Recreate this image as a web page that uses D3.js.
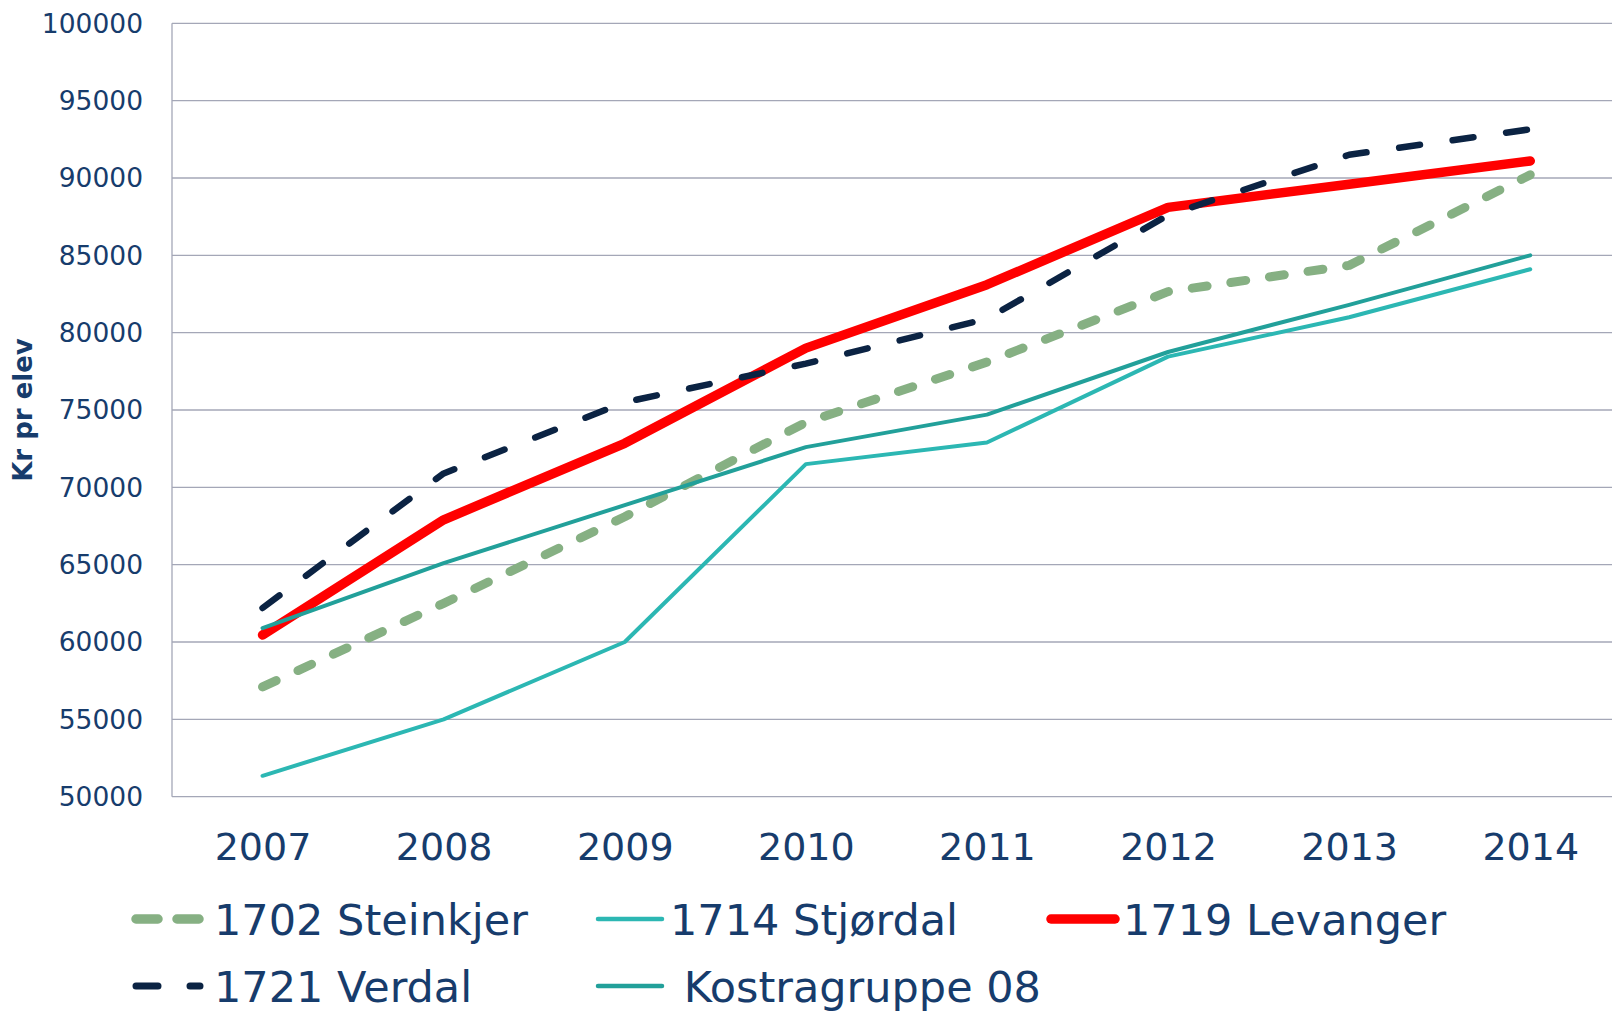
<!DOCTYPE html>
<html>
<head>
<meta charset="utf-8">
<script src="https://cdn.jsdelivr.net/npm/d3@7"></script>
<style>
  body { margin: 0; background: #fff; }
  text { font-family: "DejaVu Sans", Verdana, sans-serif; fill: #173c6c; white-space: pre; }
</style>
</head>
<body>
<div id="chart"></div>
<script>
const years = ["2007", "2008", "2009", "2010", "2011", "2012", "2013", "2014"]
const yTicks = [50000, 55000, 60000, 65000, 70000, 75000, 80000, 85000, 90000, 95000, 100000]

const steinkjer = [57100, 62500, 68100, 74200, 78100, 82650, 84350, 90200]
const stjordal  = [51350, 55000, 60000, 71500, 72900, 78450, 81000, 84100]
const levanger  = [60450, 67900, 72850, 79000, 83100, 88100, 89600, 91100]
const verdal    = [62200, 70900, 75500, 78000, 80900, 87600, 91500, 93150]
const kostra    = [60900, 65100, 68850, 72600, 74700, 78750, 81800, 85000]

const seriesNames = ["1702 Steinkjer", "1714 Stjørdal", "1719 Levanger", "1721 Verdal", " Kostragruppe 08"]

width = 1612
height = 1011
margin = ({top: 23.3, left: 172, bottom: 214.3})
band = 181.1

// look of each series, same order as seriesNames
const styles = [
  {color: "#86b083", w: 9,   dash: "15 24"},
  {color: "#2cb7b3", w: 4,   dash: null},
  {color: "#ff0000", w: 9.5, dash: null},
  {color: "#0b2343", w: 6.5, dash: "21 33"},
  {color: "#22a09a", w: 4,   dash: null}
]
const values = [steinkjer, stjordal, levanger, verdal, kostra]

x = d3.scalePoint()
    .domain(years)
    .range([margin.left, margin.left + band * years.length])
    .padding(0.5)
y = d3.scaleLinear()
    .domain([50000, 100000])
    .range([height - margin.bottom, margin.top])

const svg = d3.select("#chart").append("svg")
    .attr("width", width)
    .attr("height", height)

// grid
svg.append("g")
    .selectAll("line")
    .data(yTicks)
    .join("line")
      .attr("x1", margin.left)
      .attr("x2", margin.left + band * years.length)
      .attr("y1", d => y(d))
      .attr("y2", d => y(d))
      .attr("stroke", "#a4a7b7")
      .attr("stroke-width", 1.3)

svg.append("line")
    .attr("x1", margin.left).attr("x2", margin.left)
    .attr("y1", y(100000)).attr("y2", y(50000))
    .attr("stroke", "#a4a7b7")
    .attr("stroke-width", 1.3)

yAxis = g => g
    .attr("transform", `translate(${margin.left - 26},0)`)
    .call(d3.axisLeft(y).tickValues(yTicks).tickSize(0).tickFormat(d3.format("d")))
    .call(g => g.select(".domain").remove())
    .call(g => g.selectAll("text")
        .attr("fill", null)
        .style("font-size", "26.5px")
        .attr("dy", "0.33em"))
svg.append("g").call(yAxis)

xAxis = g => g
    .attr("transform", `translate(0,${height - margin.bottom})`)
    .call(d3.axisBottom(x).tickSize(0))
    .call(g => g.select(".domain").remove())
    .call(g => g.selectAll("text")
        .attr("fill", null)
        .attr("y", 0)
        .attr("dy", 0)
        .attr("transform", "translate(0,63)")
        .style("font-size", "38px"))
svg.append("g").call(xAxis)

svg.append("text")
    .attr("transform", `translate(32,410) rotate(-90)`)
    .attr("text-anchor", "middle")
    .style("font-size", "26px")
    .style("font-weight", "bold")
    .text("Kr pr elev")

const line = d3.line()
    .x((d, i) => x(years[i]))
    .y(d => y(d))

svg.append("g")
    .attr("fill", "none")
    .attr("stroke-linejoin", "round")
    .attr("stroke-linecap", "round")
  .selectAll("path")
  .data(values)
  .join("path")
    .attr("stroke", (d, i) => styles[i].color)
    .attr("stroke-width", (d, i) => styles[i].w)
    .attr("stroke-dasharray", (d, i) => styles[i].dash)
    .attr("d", line)

// legend
const legPos = [[132, 919], [594, 919], [1047, 919], [132, 986], [594, 986]]
const legend = svg.append("g")
  .selectAll("g")
  .data(seriesNames)
  .join("g")
    .attr("transform", (d, i) => `translate(${legPos[i][0]},${legPos[i][1]})`)

legend.append("line")
    .attr("x1", 4).attr("x2", 68)
    .attr("stroke", (d, i) => styles[i].color)
    .attr("stroke-width", (d, i) => i == 0 || i == 2 ? 9.5 : (i == 3 ? 7 : 4.5))
    .attr("stroke-linecap", "round")
    .attr("stroke-dasharray", (d, i) => i == 0 ? "22 19" : (i == 3 ? "22 32" : null))

legend.append("text")
    .attr("x", (d, i) => i == 0 || i == 3 ? 82 : 76)
    .attr("y", 16)
    .style("font-size", "43px")
    .text(d => d)
</script>
</body>
</html>
